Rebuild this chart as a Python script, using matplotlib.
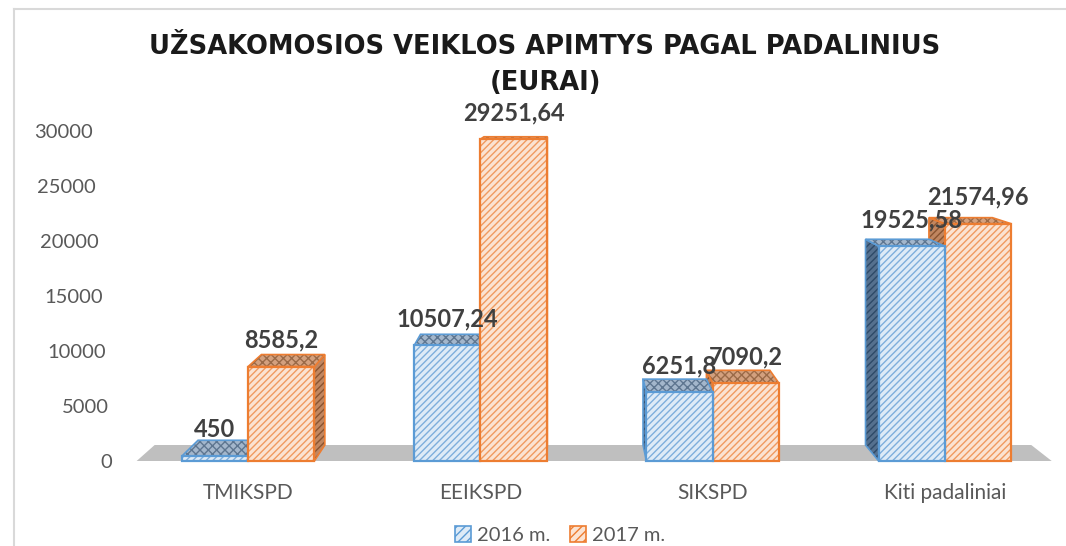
import numpy as np
import matplotlib
matplotlib.use("Agg")
import matplotlib.pyplot as plt
import matplotlib.transforms as mtransforms
from matplotlib.patches import Polygon, Patch
from matplotlib.lines import Line2D

plt.rcParams['hatch.linewidth'] = 1.0

# data
categories = ['TMIKSPD', 'EEIKSPD', 'SIKSPD', 'Kiti padaliniai']
series_names = ['2016 m.', '2017 m.']
values_2016 = [450.0, 10507.24, 6251.8, 19525.58]
values_2017 = [8585.2, 29251.64, 7090.2, 21574.96]
y_ticks = [0, 5000, 10000, 15000, 20000, 25000, 30000]
title = 'UŽSAKOMOSIOS VEIKLOS APIMTYS PAGAL PADALINIUS\n(EURAI)'

# style
front_face = ['#DEEBF7', '#FBE3D2']
hatch_col = ['#7EAEDC', '#F09A60']
edge_col = ['#5B9BD5', '#ED7D31']
side_face = ['#55708E', '#C08660']
side_hatch = ['#2E4A68', '#8A5430']
top_face = ['#A3B6CB', '#D3A07E']
top_hatch = ['#5E7690', '#9A6A48']
label_col = '#404040'
tick_col = '#595959'
bar_w = 0.285
# perspective (data coords): vanishing point and depth factor
vx, vy, depth = 1.365, 34600, 0.958
floor_x = (-0.48, 3.46)
ylabel_slant = 20 / 100  # inches of leftward shift at the top tick


def back(px, py):
    return vx + depth * (px - vx), vy + depth * (py - vy)


def fmt(v):
    return f"{v:.2f}".rstrip('0').rstrip('.').replace('.', ',')


fig = plt.figure(figsize=(10.66, 5.46), dpi=100)
ax = fig.add_axes([132 / 1066, 85 / 546, 929 / 1066, 330 / 546])
ax.set_xlim(-0.5, 3.5)
ax.set_ylim(0, 30000)

# floor
f0, f1 = floor_x
floor = [(f0, 0), (f1, 0), back(f1, 0), back(f0, 0)]
ax.add_patch(Polygon(floor, closed=True, facecolor='#BFBFBF', edgecolor='none',
                     zorder=1, clip_on=False))

x = np.arange(len(categories))
series = [values_2016, values_2017]
for s, vals in enumerate(series):
    offs = (s - 0.5) * bar_w
    for i, v in enumerate(vals):
        cx = x[i] + offs
        x0, x1 = cx - bar_w / 2, cx + bar_w / 2
        z = 10 - abs(cx - vx)
        # side face
        if x1 < vx:
            sx = x1
        elif x0 > vx:
            sx = x0
        else:
            sx = None
        if sx is not None:
            pts = [(sx, 0), (sx, v), back(sx, v), back(sx, 0)]
            ax.add_patch(Polygon(pts, closed=True, facecolor=side_face[s],
                                 edgecolor=side_hatch[s], hatch='/////', lw=0,
                                 zorder=z, clip_on=False))
            ax.add_patch(Polygon(pts, closed=True, fill=False, edgecolor=edge_col[s],
                                 lw=1.2, zorder=z, clip_on=False))
        # top face
        pts = [(x0, v), (x1, v), back(x1, v), back(x0, v)]
        ax.add_patch(Polygon(pts, closed=True, facecolor=top_face[s],
                             edgecolor=top_hatch[s], hatch='xxxx', lw=0,
                             zorder=z, clip_on=False))
        ax.add_patch(Polygon(pts, closed=True, fill=False, edgecolor=edge_col[s],
                             lw=1.2, zorder=z, clip_on=False))
        # front face
        ax.bar(cx, v, bar_w, color=front_face[s], edgecolor=hatch_col[s],
               hatch='/////', lw=0, zorder=z + 0.01, clip_on=False)
        ax.bar(cx, v, bar_w, fill=False, edgecolor=edge_col[s], lw=1.6,
               zorder=z + 0.02, clip_on=False)
        ax.annotate(fmt(v), (cx, v), xytext=(0, 19), textcoords='offset points',
                    ha='center', va='center', fontsize=17, fontweight='bold',
                    family=['Lato', 'DejaVu Sans'], color=label_col, zorder=30)

ax.set_xticks(x)
ax.set_xticklabels(categories)
ax.set_yticks(y_ticks)
ax.set_yticklabels([str(t) for t in y_ticks])
ax.tick_params(axis='x', length=0, labelsize=15, labelcolor=tick_col, pad=16)
ax.tick_params(axis='y', length=0, labelsize=14.5, labelcolor=tick_col, pad=14)
for lab in ax.get_xticklabels() + ax.get_yticklabels():
    lab.set_family(['Lato', 'DejaVu Sans'])
# y labels follow the slanted back wall
for t, lab in zip(y_ticks, ax.get_yticklabels()):
    dx = -ylabel_slant * t / y_ticks[-1]
    lab.set_transform(lab.get_transform() +
                      mtransforms.ScaledTranslation(dx, 0, fig.dpi_scale_trans))
for sp in ax.spines.values():
    sp.set_visible(False)
ax.patch.set_alpha(0)

fig.text(545 / 1066, 1 - 65 / 546, title, ha='center', va='center', fontsize=18.5,
         fontweight='bold', family=['DejaVu Sans'], color='#1A1A1A', linespacing=1.45)

handles = [Patch(facecolor=front_face[s], edgecolor=edge_col[s], hatch='////', lw=1.2)
           for s in range(2)]
fig.legend(handles, series_names, loc='center', ncol=2,
           bbox_to_anchor=(560 / 1066, 1 - 535 / 546), frameon=False,
           prop={'family': ['Lato', 'DejaVu Sans'], 'size': 14.5},
           labelcolor=tick_col, handlelength=0.8, handleheight=0.8,
           handletextpad=0.3, columnspacing=1.0)

# chart area border (left and top)
fig.add_artist(Line2D([14 / 1066, 14 / 1066], [0, 1 - 9 / 546],
                      transform=fig.transFigure, color='#D9D9D9', lw=1.5))
fig.add_artist(Line2D([14 / 1066, 1], [1 - 9 / 546, 1 - 9 / 546],
                      transform=fig.transFigure, color='#D9D9D9', lw=1.5))

fig.savefig('out.png', dpi=100)
